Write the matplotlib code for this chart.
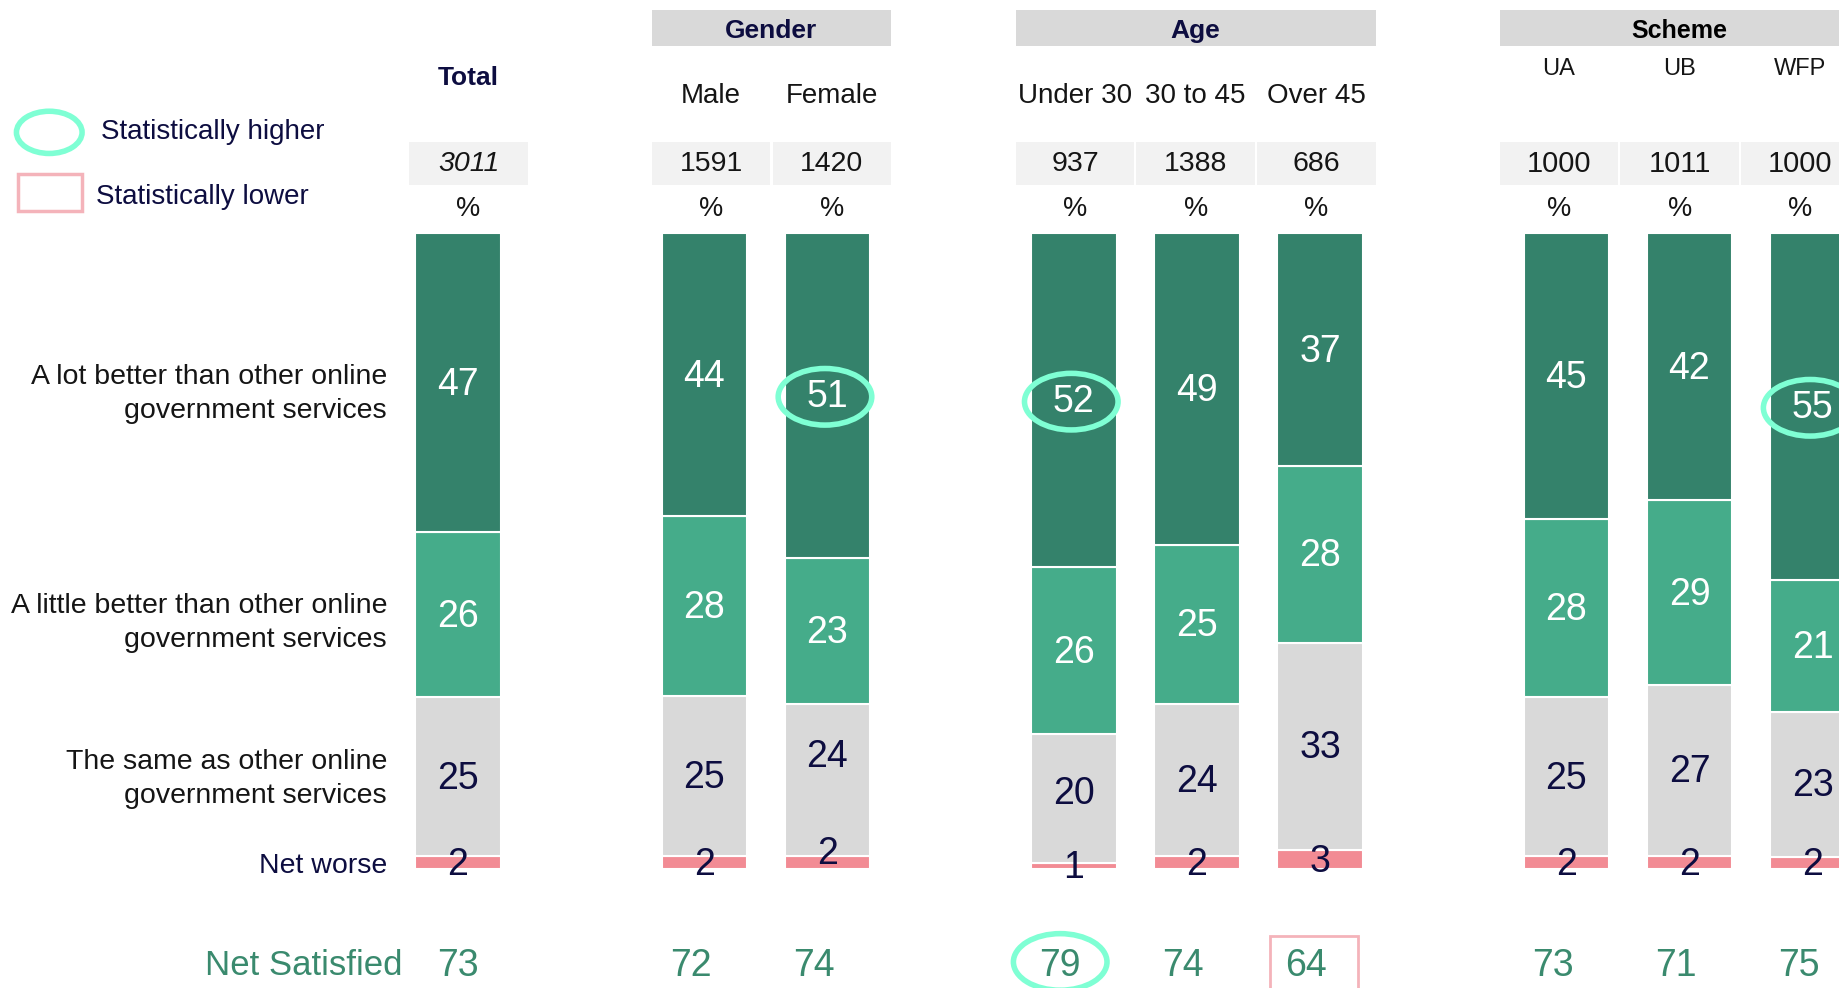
import matplotlib
matplotlib.use("Agg")
import matplotlib.pyplot as plt
from matplotlib.patches import Ellipse, Rectangle
import numpy as np

# ---------------- data ----------------
columns = ["Total", "Male", "Female", "Under 30", "30 to 45", "Over 45", "UA", "UB", "WFP"]
groups = ["", "Gender", "Gender", "Age", "Age", "Age", "Scheme", "Scheme", "Scheme"]
bases = ["3011", "1591", "1420", "937", "1388", "686", "1000", "1011", "1000"]
categories = ["A lot better than other online\ngovernment services",
              "A little better than other online\ngovernment services",
              "The same as other online\ngovernment services",
              "Net worse"]
a_lot_better = [47, 44, 51, 52, 49, 37, 45, 42, 55]
a_little_better = [26, 28, 23, 26, 25, 28, 28, 29, 21]
the_same = [25, 25, 24, 20, 24, 33, 25, 27, 23]
net_worse = [2, 2, 2, 1, 2, 3, 2, 2, 2]
net_satisfied = [73, 72, 74, 79, 74, 64, 73, 71, 75]
# significance flags
higher_lot_better = ["Female", "Under 30", "WFP"]
higher_net = ["Under 30"]
lower_net = ["Over 45"]

# ---------------- style ----------------
NAVY = "#0d0d40"
BLACK = "#151515"
DARK = "#34826b"
LIGHT = "#45ac8a"
GREY = "#d9d9d9"
PINK = "#f28b94"
NETGREEN = "#3a8a6e"
AQUA = "#7fffd4"
PINKBOX = "#f4b3ba"
FONT = ["Liberation Sans", "DejaVu Sans"]

positions = np.array([0, 2, 3, 5, 6, 7, 9, 10, 11], dtype=float)

fig = plt.figure(figsize=(18.39, 9.88), dpi=100)
ax = fig.add_axes([0, 0, 1, 1])
ax.set_xlim(-3.719, 11.214)
ax.set_ylim(-18.70, 136.72)
ax.axis("off")

series = [net_worse, the_same, a_little_better, a_lot_better]
colors = [PINK, GREY, LIGHT, DARK]
txtcols = [NAVY, NAVY, "white", "white"]
data = np.array(series, dtype=float)
norm = data / data.sum(axis=0) * 100.0
bottoms = np.zeros(len(columns))
centers = []
for k in range(4):
    ax.bar(positions, norm[k], bottom=bottoms, width=0.695, color=colors[k],
           edgecolor="white", linewidth=1.5, zorder=2)
    centers.append(bottoms + norm[k] / 2)
    bottoms = bottoms + norm[k]

nudge = {("Female", 1): 3.9, ("Female", 0): 1.8, ("Under 30", 1): 1.0}
for k in range(4):
    for i, col in enumerate(columns):
        y = centers[k][i] + nudge.get((col, k), 0.0) - (0.4 if k == 0 else 0.3)
        ax.text(positions[i], y, str(series[k][i]), ha="center", va="center",
                color=txtcols[k], fontsize=27, family=FONT, zorder=4)

# significance ellipses on "a lot better"
for i, col in enumerate(columns):
    if col in higher_lot_better:
        ax.add_patch(Ellipse((positions[i] - 0.02, centers[3][i] - 0.2), 0.76, 8.9,
                             fill=False, edgecolor=AQUA, linewidth=4, zorder=5))

# row labels
label_dy = [-1.8, -1.3, -0.3, -0.45]
for k, lab in enumerate(categories):
    idx = 3 - k
    ax.text(-0.576, centers[idx][0] + label_dy[k], lab, ha="right",
            va="center", color=NAVY if idx == 0 else BLACK, fontsize=20.5,
            family=FONT, linespacing=1.4)

# Net satisfied row
ax.text(-0.452, -15.2, "Net Satisfied", ha="right", va="center", color=NETGREEN,
        fontsize=25, family=FONT)
for i, col in enumerate(columns):
    xo = positions[i] - (0.0 if i == 0 else 0.11)
    ax.text(xo, -15.2, str(net_satisfied[i]), ha="center", va="center",
            color=NETGREEN, fontsize=27, family=FONT)
    if col in higher_net:
        ax.add_patch(Ellipse((xo, -14.6), 0.76, 8.9, fill=False, edgecolor=AQUA,
                             linewidth=4, zorder=5))
    if col in lower_net:
        ax.add_patch(Rectangle((xo - 0.30, -22), 0.72, 11.5, fill=False,
                               edgecolor=PINKBOX, linewidth=2, zorder=5))

# header table
cell_w = 0.962
step = 0.98
group_shift = {"": 0.086, "Gender": 0.045, "Age": -0.01, "Scheme": -0.08}
group_cols = {}
for i, g in enumerate(groups):
    group_cols.setdefault(g, []).append(i)
hdr_x = np.zeros(len(columns))
for g, idxs in group_cols.items():
    c = positions[idxs].mean() + group_shift[g]
    n = len(idxs)
    for j, i in enumerate(idxs):
        hdr_x[i] = c + (j - (n - 1) / 2) * step

for g, idxs in group_cols.items():
    if not g:
        continue
    x0 = hdr_x[idxs[0]] - cell_w / 2
    x1 = hdr_x[idxs[-1]] + cell_w / 2
    ax.add_patch(Rectangle((x0, 129.5), x1 - x0, 5.6, facecolor=GREY,
                           edgecolor="none", clip_on=False))
    is_scheme = g == "Scheme"
    ax.text((x0 + x1) / 2, 131.9, g, ha="center", va="center",
            color=NAVY if not is_scheme else "black",
            fontsize=19 if not is_scheme else 18, fontweight="bold", family=FONT)

for i, col in enumerate(columns):
    xc = hdr_x[i]
    is_scheme = groups[i] == "Scheme"
    if i == 0:
        ax.text(xc, 124.4, col, ha="center", va="center", color=NAVY,
                fontsize=19, fontweight="bold", family=FONT)
    elif is_scheme:
        ax.text(xc, 125.8, col, ha="center", va="center", color=BLACK,
                fontsize=17, family=FONT)
    else:
        ax.text(xc, 121.6, col, ha="center", va="center", color=BLACK,
                fontsize=20, family=FONT)
    ax.add_patch(Rectangle((xc - cell_w / 2, 107.6), cell_w, 6.8,
                           facecolor="#f2f2f2", edgecolor="none"))
    ax.text(xc, 110.9, bases[i], ha="center", va="center", color=BLACK,
            fontsize=20.5 if not is_scheme else 21, family=FONT,
            fontstyle="italic" if i == 0 else "normal")
    ax.text(xc, 103.8, "%", ha="center", va="center", color=BLACK,
            fontsize=19.5, family=FONT)

# legend
ax.add_patch(Ellipse((-3.319, 115.9), 0.533, 6.64, fill=False, edgecolor=AQUA,
                     linewidth=4, zorder=5))
ax.text(-2.90, 116.0, "Statistically higher", ha="left", va="center", color=NAVY,
        fontsize=20, family=FONT)
ax.add_patch(Rectangle((-3.576, 103.5), 0.524, 5.9, fill=False, edgecolor=PINKBOX,
                       linewidth=2.5, zorder=5))
ax.text(-2.938, 105.8, "Statistically lower", ha="left", va="center", color=NAVY,
        fontsize=20, family=FONT)

fig.savefig("out.png", dpi=100)
